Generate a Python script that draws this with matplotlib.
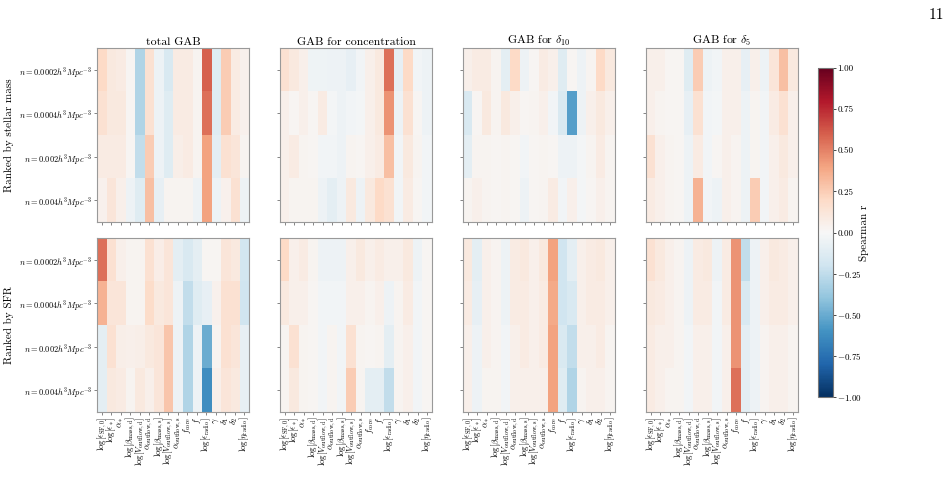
import numpy as np
import matplotlib
matplotlib.use("Agg")
from matplotlib import pyplot as plt

plt.rcParams['font.family'] = ['cmr10', 'DejaVu Serif']
plt.rcParams['mathtext.fontset'] = 'cm'
plt.rcParams['axes.formatter.use_mathtext'] = True

# ---- data -------------------------------------------------------------
params = [r'$\log[\epsilon_{\rm SF,0}]$', r'$\log[\epsilon_*]$', r'$\alpha_*$',
          r'$\log[\beta_{\rm mass,d}]$', r'$\log[V_{\rm outflow,d}]$', r'$\alpha_{\rm outflow,d}$',
          r'$\log[\beta_{\rm mass,s}]$', r'$\log[V_{\rm outflow,s}]$', r'$\alpha_{\rm outflow,s}$',
          r'$f_{\rm core}$', r'$f$', r'$\log[\epsilon_{\rm radio}]$', r'$\gamma$',
          r'$\delta_1$', r'$\delta_2$', r'$\log[\eta_{\rm radio}]$']

densities = [r'$n = 0.0002h^3Mpc^{-3}$', r'$n = 0.0004h^3Mpc^{-3}$',
             r'$n = 0.002h^3Mpc^{-3}$', r'$n = 0.004h^3Mpc^{-3}$']

titles = ['total GAB', 'GAB for concentration', r'GAB for $\delta_{10}$', r'GAB for $\delta_5$']
row_labels = ['Ranked by stellar mass', 'Ranked by SFR']

# stellar mass ranked
mass_total = [
    [0.20, 0.10, 0.08, 0.02, -0.30, 0.15, -0.05, -0.15, 0.08, 0.08, 0.03, 0.60, -0.12, 0.25, 0.08, 0.04],
    [0.15, 0.10, 0.10, 0.02, -0.30, 0.15, -0.05, -0.12, 0.08, 0.08, 0.03, 0.55, -0.12, 0.25, 0.08, 0.04],
    [0.08, 0.08, 0.08, 0.02, -0.25, 0.25, -0.05, -0.12, 0.06, 0.08, 0.03, 0.40, -0.10, 0.15, 0.12, 0.03],
    [0.04, 0.12, 0.05, -0.05, -0.12, 0.30, -0.08, 0.03, 0.03, 0.03, -0.05, 0.40, -0.05, 0.04, 0.15, -0.05],
]
mass_conc = [
    [0.15, 0.10, 0.05, -0.04, -0.04, -0.05, -0.05, -0.08, -0.03, 0.05, 0.10, 0.55, -0.08, 0.20, -0.03, -0.05],
    [0.05, 0.02, 0.05, 0.02, 0.08, -0.02, -0.05, -0.03, -0.02, 0.05, 0.10, 0.45, -0.05, 0.15, 0.02, -0.05],
    [0.05, 0.08, 0.03, 0.02, -0.03, -0.03, -0.05, 0.03, 0.02, 0.05, 0.08, 0.30, -0.03, 0.10, 0.03, -0.03],
    [0.05, 0.03, 0.03, 0.03, -0.05, -0.10, -0.05, 0.10, -0.05, 0.10, 0.20, 0.15, -0.03, 0.08, 0.02, -0.03],
]
mass_d10 = [
    [0.05, 0.08, 0.08, 0.03, -0.10, 0.20, -0.05, 0.02, 0.08, 0.05, -0.12, 0.02, -0.05, 0.03, 0.20, 0.10],
    [-0.15, 0.02, 0.10, 0.03, 0.10, 0.05, 0.02, 0.03, 0.05, -0.03, -0.15, -0.55, -0.05, 0.05, 0.10, 0.05],
    [-0.10, 0.03, 0.03, 0.02, 0.03, 0.02, -0.03, 0.02, 0.03, 0.02, -0.05, -0.05, -0.02, 0.03, 0.08, 0.03],
    [0.03, 0.05, 0.03, 0.02, 0.03, 0.02, -0.05, 0.02, 0.03, 0.08, -0.03, 0.05, -0.02, 0.02, 0.05, 0.03],
]
mass_d5 = [
    [0.05, 0.05, 0.02, 0.02, -0.12, 0.25, -0.05, -0.03, 0.05, 0.05, -0.08, 0.05, -0.05, 0.12, 0.30, 0.10],
    [0.05, 0.03, 0.02, 0.02, -0.08, 0.15, -0.03, -0.02, 0.05, 0.05, -0.05, 0.03, -0.03, 0.08, 0.15, 0.05],
    [0.15, 0.05, 0.03, 0.02, -0.05, 0.08, -0.03, 0.02, 0.05, 0.03, -0.05, 0.03, -0.03, 0.05, 0.10, 0.05],
    [0.08, 0.05, 0.03, 0.02, -0.05, 0.35, -0.03, -0.05, 0.05, 0.03, -0.05, 0.25, -0.03, 0.05, 0.08, 0.03],
]

# SFR ranked
sfr_total = [
    [0.55, 0.15, 0.05, 0.03, 0.03, 0.15, 0.07, 0.12, -0.10, -0.15, -0.10, 0.02, 0.02, 0.12, 0.10, -0.18],
    [0.35, 0.12, 0.12, 0.03, 0.03, 0.18, 0.10, 0.12, -0.05, -0.25, -0.12, -0.08, 0.04, 0.15, 0.15, -0.20],
    [-0.10, 0.15, 0.06, 0.05, 0.06, 0.10, 0.12, 0.28, -0.05, -0.30, -0.05, -0.50, 0.03, 0.15, 0.12, -0.08],
    [-0.10, 0.10, 0.08, 0.03, 0.10, 0.05, 0.12, 0.28, -0.05, -0.30, -0.05, -0.62, 0.05, 0.12, 0.10, -0.08],
]
sfr_conc = [
    [0.20, 0.05, 0.08, 0.03, -0.05, -0.05, -0.05, 0.05, 0.10, 0.05, 0.08, 0.05, 0.05, 0.10, -0.05, 0.02],
    [0.10, 0.05, 0.05, 0.02, -0.03, -0.03, -0.03, 0.05, 0.05, 0.03, 0.05, -0.05, 0.03, 0.08, -0.03, 0.02],
    [0.03, 0.15, 0.03, 0.02, -0.03, 0.03, -0.03, 0.15, 0.03, 0.02, 0.03, -0.10, 0.03, 0.05, -0.03, 0.02],
    [0.03, 0.10, 0.03, 0.02, -0.03, 0.03, -0.03, 0.25, 0.03, -0.10, -0.10, -0.25, 0.03, 0.05, -0.03, 0.02],
]
sfr_d10 = [
    [0.10, -0.10, 0.05, 0.03, -0.05, 0.08, 0.10, 0.05, 0.10, 0.40, -0.20, -0.10, 0.05, 0.08, 0.10, 0.05],
    [0.08, -0.08, 0.05, 0.03, -0.05, 0.08, 0.08, 0.05, 0.08, 0.38, -0.20, -0.15, 0.05, 0.08, 0.08, 0.05],
    [0.05, -0.05, 0.05, 0.03, -0.03, 0.05, 0.08, 0.05, 0.08, 0.40, -0.15, -0.25, 0.05, 0.05, 0.08, 0.03],
    [0.05, -0.05, 0.03, 0.03, -0.03, 0.05, 0.05, 0.05, 0.05, 0.40, -0.12, -0.30, 0.03, 0.05, 0.05, 0.03],
]
sfr_d5 = [
    [0.15, 0.10, 0.05, 0.03, -0.05, 0.08, 0.10, -0.05, 0.08, 0.45, -0.25, -0.05, 0.05, 0.10, 0.08, 0.05],
    [0.10, 0.08, 0.05, 0.03, -0.05, 0.08, 0.08, -0.03, 0.08, 0.45, -0.15, -0.05, 0.05, 0.08, 0.08, 0.05],
    [0.08, 0.05, 0.05, 0.03, -0.03, 0.05, 0.05, -0.03, 0.05, 0.45, -0.10, -0.05, 0.03, 0.05, 0.05, 0.03],
    [0.08, 0.05, 0.03, 0.03, -0.03, 0.05, 0.05, -0.03, 0.05, 0.55, -0.10, -0.05, 0.03, 0.05, 0.05, 0.03],
]

grids = [[mass_total, mass_conc, mass_d10, mass_d5],
         [sfr_total, sfr_conc, sfr_d10, sfr_d5]]

# ---- figure -----------------------------------------------------------
W, H = 951, 478
fig = plt.figure(figsize=(W / 100, H / 100), dpi=100)

def px_axes(x0, y0, x1, y1):
    return fig.add_axes([x0 / W, 1 - y1 / H, (x1 - x0) / W, (y1 - y0) / H])

lefts = [97, 280, 463, 646]
tops = [48, 238]
pw, ph = 152, 174
frame_col = '#999999'

im = None
for r in range(2):
    for c in range(4):
        ax = px_axes(lefts[c], tops[r], lefts[c] + pw, tops[r] + ph)
        im = ax.imshow(np.array(grids[r][c]), cmap='RdBu_r', vmin=-1, vmax=1,
                       aspect='auto', interpolation='nearest')
        for s in ax.spines.values():
            s.set_color(frame_col)
            s.set_linewidth(0.8)
        ax.set_xticks(range(len(params)))
        ax.set_yticks(range(len(densities)))
        ax.tick_params(length=2, width=0.5, color='#555555', labelsize=6, pad=1.5)
        if r == 1:
            ax.set_xticklabels(params, rotation=90, fontsize=6.3)
        else:
            ax.set_xticklabels([])
            ax.set_title(titles[c], fontsize=8.5, pad=2)
        if c == 0:
            ax.set_yticklabels(densities, fontsize=6)
            ax.set_ylabel(row_labels[r], fontsize=8, labelpad=4)
        else:
            ax.set_yticklabels([])

cax = px_axes(818, 68, 833, 397)
cb = fig.colorbar(im, cax=cax, ticks=[-1, -0.75, -0.5, -0.25, 0, 0.25, 0.5, 0.75, 1])
cb.ax.set_yticklabels(['$-1.00$', '$-0.75$', '$-0.50$', '$-0.25$', '0.00',
                       '0.25', '0.50', '0.75', '1.00'])
cb.ax.tick_params(labelsize=6.5, length=2, width=0.5, pad=1)
cb.outline.set_edgecolor('#777777')
cb.outline.set_linewidth(0.8)
cb.set_label('Spearman r', fontsize=8, labelpad=-2)

fig.text(936 / W, 1 - 15 / H, '11', fontsize=11, ha='center', va='center')

fig.savefig('out.png', dpi=100)
